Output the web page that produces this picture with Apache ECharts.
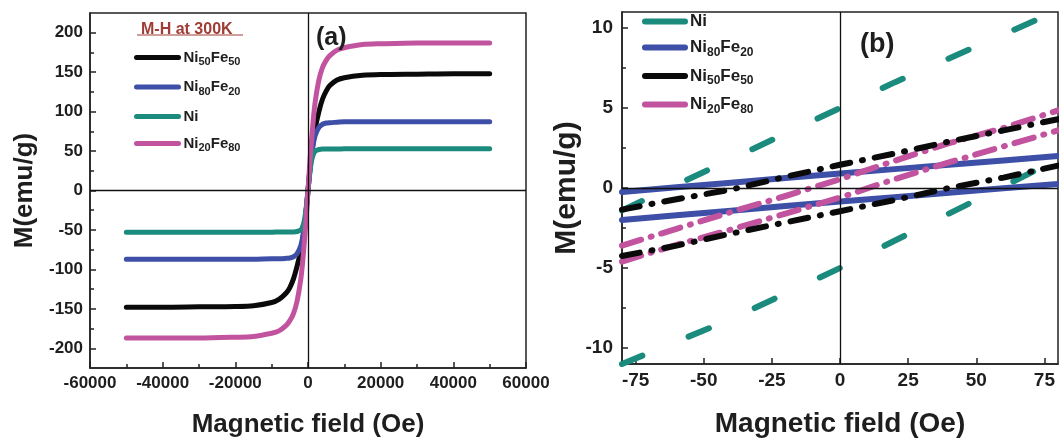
<!DOCTYPE html>
<html>
<head>
<meta charset="utf-8">
<script src="https://cdn.jsdelivr.net/npm/echarts@6/dist/echarts.min.js"></script>
<style>
html,body{margin:0;padding:0;background:#fff;}
#chart{width:1059px;height:443px;}
</style>
</head>
<body>
<div id="chart"></div>
<script>
// ---------- Panel (a): M-H loops at 300 K ----------
const fieldA = [-50000,-40000,-30000,-20000,-15000,-10000,-8000,-6000,-5000,-4000,-3000,-2000,-1500,-1000,-500,0,500,1000,1500,2000,3000,4000,5000,6000,8000,10000,15000,20000,30000,40000,50000];
const mNi50Fe50 = [-148,-148,-147.5,-147,-146,-142,-138,-130,-123,-112,-96,-76,-63,-47,-25,0,25,47,63,79,100,116,126,133,140,143,146,147,147.5,148,148];
const mNi80Fe20 = [-87,-87,-87,-87,-87,-86.5,-86.5,-86,-85.5,-84,-80,-70,-60,-45,-25,0,25,45,60,70,80,84,85.5,86,86.5,87,87,87,87,87,87];
const mNi       = [-53,-53,-53,-53,-53,-53,-52.5,-52.5,-52.5,-52.5,-52,-50,-46,-38,-22,0,22,38,46,50,52,52.5,52.5,52.5,52.5,53,53,53,53,53,53];
const mNi20Fe80 = [-187,-187,-187,-186,-185,-181,-178,-171,-165,-156,-140,-113,-92,-65,-35,0,35,65,92,113,140,156,165,171,178,181,185,186,187,187,187];

const yLabelsA = [-200,-150,-100,-50,0,50,100,150,200];
const yMinorA  = [-175,-125,-75,-25,25,75,125,175];

// ---------- Panel (b): low-field zoom ----------
const fieldB = [-80,-60,-40,-20,0,20,40,60,80];
const niUpper       = [-1.4,0.2,1.8,3.4,5.0,6.6,8.1,9.6,11.1];
const niLower       = [-11.0,-9.6,-8.2,-6.6,-5.0,-3.3,-1.6,0.1,1.8];
const ni80Upper     = [-0.25,0.05,0.33,0.62,0.9,1.18,1.45,1.72,2.0];
const ni80Lower     = [-2.0,-1.7,-1.42,-1.13,-0.85,-0.58,-0.3,-0.02,0.25];
const ni50Upper     = [-1.35,-0.7,-0.1,0.7,1.45,2.15,2.9,3.6,4.3];
const ni50Lower     = [-4.25,-3.6,-2.85,-2.15,-1.45,-0.75,0.0,0.65,1.4];
const ni20Upper     = [-3.6,-2.55,-1.5,-0.5,0.55,1.7,2.8,3.75,4.85];
const ni20Lower     = [-4.6,-3.55,-2.6,-1.6,-0.6,0.55,1.6,2.6,3.6];

const xLabelsB = [-75,-50,-25,0,25,50,75];
const yLabelsB = [-10,-5,0,5,10];
const yMinorB  = [-7.5,-2.5,2.5,7.5];

const legendA = ['Ni50Fe50','Ni80Fe20','Ni','Ni20Fe80'];
const legendB = ['Ni','Ni80Fe20','Ni50Fe50','Ni20Fe80'];
const richNames = {
  'Ni50Fe50':'Ni{s|50}Fe{s|50}',
  'Ni80Fe20':'Ni{s|80}Fe{s|20}',
  'Ni20Fe80':'Ni{s|20}Fe{s|80}',
  'Ni':'Ni'
};

const COL = {black:'#0a0a0a', blue:'#3d4fa6', teal:'#1b8b7d', pink:'#c2549f'};
const FONT = 'Liberation Sans, Arial, sans-serif';
const INK = '#1e1e1e';

function pairs(xs, ys){ return xs.map((x,i)=>[x, ys[i]]); }

function lineSeries(name, xs, ys, color, width, type, xi, yi, extra){
  return Object.assign({
    type:'line', name:name, xAxisIndex:xi, yAxisIndex:yi,
    data:pairs(xs,ys), symbol:'none', showSymbol:false, z:3,
    animation:false, itemStyle:{color:color},
    lineStyle:{color:color, width:width, type:type, cap:'round', join:'round'}
  }, extra||{});
}

function zeroLines(xi, yi){
  return {
    type:'line', xAxisIndex:xi, yAxisIndex:yi, data:[], z:1, silent:true, animation:false,
    markLine:{silent:true, symbol:'none', animation:false, label:{show:false},
      lineStyle:{color:'#111', width:1.3, type:'solid'},
      data:[{xAxis:0},{yAxis:0}]}
  };
}

const legendRich = {
  s:{fontSize:11, fontWeight:'bold', fontFamily:FONT, color:INK, padding:[9,0,0,0], verticalAlign:'bottom'}
};
const legendRichB = {
  s:{fontSize:12, fontWeight:'bold', fontFamily:FONT, color:INK, padding:[10,0,0,0], verticalAlign:'bottom'}
};
const plainNum = (v)=>String(v);

const option = {
  backgroundColor:'#fff',
  animation:false,
  textStyle:{fontFamily:FONT},
  title:[
    {text:'(a)', left:311, top:21, textStyle:{fontSize:25, fontWeight:'bold', color:INK, fontFamily:FONT}},
    {text:'(b)', left:855, top:26, textStyle:{fontSize:27, fontWeight:'bold', color:INK, fontFamily:FONT}},
    {text:'M-H at 300K', left:136, top:17, textStyle:{fontSize:16, fontWeight:'bold', color:'#a03c36', fontFamily:FONT}}
  ],
  graphic:[
    {type:'line', shape:{x1:137, y1:35, x2:243, y2:35}, style:{stroke:'#a03c36', lineWidth:1.2}}
  ],
  legend:[
    {
      data:legendA, orient:'vertical', left:129, top:45, itemWidth:42, itemHeight:12, itemGap:12,
      formatter:(n)=>richNames[n],
      itemStyle:{opacity:0},
      lineStyle:{width:5, cap:'round'},
      textStyle:{fontSize:15, fontWeight:'bold', color:INK, fontFamily:FONT, rich:legendRich},
      selectedMode:false
    },
    {
      data:legendB, orient:'vertical', left:637, top:8, itemWidth:40, itemHeight:12, itemGap:9,
      formatter:(n)=>richNames[n],
      itemStyle:{opacity:0},
      lineStyle:{width:6, cap:'round'},
      textStyle:{fontSize:17, fontWeight:'bold', color:INK, fontFamily:FONT, rich:legendRichB},
      selectedMode:false
    }
  ],
  grid:[
    {left:90, right:533, top:13, bottom:73, show:true, borderColor:'#222', borderWidth:1.5, backgroundColor:'#fff'},
    {left:622, right:1, top:12, bottom:72, show:true, borderColor:'#222', borderWidth:1.5, backgroundColor:'#fff'}
  ],
  xAxis:[
    {
      gridIndex:0, type:'value', min:-60000, max:60000, interval:20000,
      axisLine:{show:true, onZero:false, lineStyle:{color:'#222', width:1.5}},
      axisTick:{show:true, inside:true, length:6, lineStyle:{color:'#222', width:1.5}},
      minorTick:{show:true, splitNumber:2, length:4, lineStyle:{color:'#222', width:1.5}},
      splitLine:{show:false},
      axisLabel:{fontSize:17, fontWeight:'bold', color:INK, margin:7, fontFamily:FONT, formatter:plainNum, showMinLabel:true, showMaxLabel:true, hideOverlap:false},
      name:'Magnetic field (Oe)', nameLocation:'middle', nameGap:44,
      nameTextStyle:{fontSize:26, fontWeight:'bold', color:INK, fontFamily:FONT}
    },
    {
      gridIndex:1, type:'value', min:-80, max:80,
      axisLine:{show:true, onZero:false, lineStyle:{color:'#222', width:1.5}},
      axisTick:{show:true, inside:true, length:6, customValues:xLabelsB, lineStyle:{color:'#222', width:1.5}},
      splitLine:{show:false},
      axisLabel:{fontSize:19, fontWeight:'bold', color:INK, margin:7, fontFamily:FONT, formatter:plainNum, customValues:xLabelsB},
      name:'Magnetic field (Oe)', nameLocation:'middle', nameGap:46,
      nameTextStyle:{fontSize:28, fontWeight:'bold', color:INK, fontFamily:FONT}
    }
  ],
  yAxis:[
    {
      gridIndex:0, type:'value', min:-225, max:225,
      axisLine:{show:true, onZero:false, lineStyle:{color:'#222', width:1.5}},
      axisTick:{show:true, inside:true, length:6, customValues:yLabelsA, lineStyle:{color:'#222', width:1.5}},
      splitLine:{show:false},
      axisLabel:{fontSize:17, fontWeight:'bold', color:INK, margin:7, fontFamily:FONT, formatter:plainNum, customValues:yLabelsA},
      name:'M(emu/g)', nameLocation:'middle', nameGap:52, nameRotate:90,
      nameTextStyle:{fontSize:26, fontWeight:'bold', color:INK, fontFamily:FONT}
    },
    {
      gridIndex:0, type:'value', min:-225, max:225, position:'left',
      axisLine:{show:false, onZero:false},
      axisTick:{show:true, inside:true, length:4, customValues:yMinorA, lineStyle:{color:'#222', width:1.5}},
      splitLine:{show:false}, axisLabel:{show:false}
    },
    {
      gridIndex:1, type:'value', min:-11, max:11,
      axisLine:{show:true, onZero:false, lineStyle:{color:'#222', width:1.5}},
      axisTick:{show:true, inside:true, length:6, customValues:yLabelsB, lineStyle:{color:'#222', width:1.5}},
      splitLine:{show:false},
      axisLabel:{fontSize:19, fontWeight:'bold', color:INK, margin:9, fontFamily:FONT, formatter:plainNum, customValues:yLabelsB},
      name:'M(emu/g)', nameLocation:'middle', nameGap:36, nameRotate:90,
      nameTextStyle:{fontSize:30, fontWeight:'bold', color:INK, fontFamily:FONT}
    },
    {
      gridIndex:1, type:'value', min:-11, max:11, position:'left',
      axisLine:{show:false, onZero:false},
      axisTick:{show:true, inside:true, length:4, customValues:yMinorB, lineStyle:{color:'#222', width:1.5}},
      splitLine:{show:false}, axisLabel:{show:false}
    }
  ],
  series:[
    zeroLines(0,0),
    lineSeries('Ni50Fe50', fieldA, mNi50Fe50, COL.black, 5, 'solid', 0, 0, {smooth:0.3}),
    lineSeries('Ni80Fe20', fieldA, mNi80Fe20, COL.blue, 5, 'solid', 0, 0, {smooth:0.3}),
    lineSeries('Ni', fieldA, mNi, COL.teal, 5, 'solid', 0, 0, {smooth:0.3}),
    lineSeries('Ni20Fe80', fieldA, mNi20Fe80, COL.pink, 5, 'solid', 0, 0, {smooth:0.3}),

    zeroLines(1,2),
    lineSeries('Ni', fieldB, niUpper, COL.teal, 6, [22,50], 1, 2),
    lineSeries('Ni', fieldB, niLower, COL.teal, 6, [22,50], 1, 2),
    lineSeries('Ni80Fe20', fieldB, ni80Upper, COL.blue, 6, 'solid', 1, 2),
    lineSeries('Ni80Fe20', fieldB, ni80Lower, COL.blue, 6, 'solid', 1, 2),
    lineSeries('Ni20Fe80', fieldB, ni20Upper, COL.pink, 6, [20,10,1,10], 1, 2),
    lineSeries('Ni20Fe80', fieldB, ni20Lower, COL.pink, 6, [20,10,1,10], 1, 2),
    lineSeries('Ni50Fe50', fieldB, ni50Upper, COL.black, 6, [18,12,1,12], 1, 2),
    lineSeries('Ni50Fe50', fieldB, ni50Lower, COL.black, 6, [18,12,1,12], 1, 2)
  ]
};

const chart = echarts.init(document.getElementById('chart'), null, {renderer:'canvas'});
chart.setOption(option);
</script>
</body>
</html>
